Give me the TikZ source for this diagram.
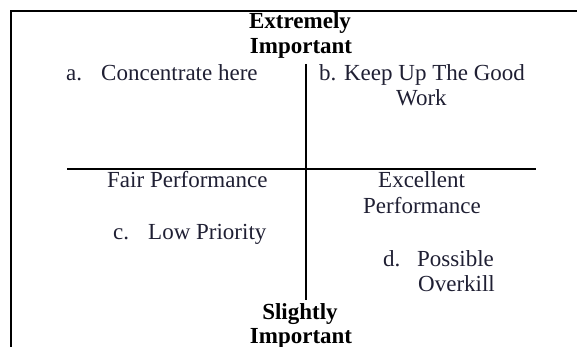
\documentclass[tikz,border=0pt]{standalone}
\usepackage{fontspec}
\setmainfont{Liberation Serif}
\definecolor{txt}{rgb}{0.12,0.12,0.2}
\begin{document}
\begin{tikzpicture}[x=1pt,y=-1pt,
  lbl/.style={anchor=base west,inner sep=0pt,text=txt,font=\fontsize{23}{27}\selectfont},
  hdr/.style={anchor=base,inner sep=0pt,text=black,font=\fontsize{23}{27}\selectfont\bfseries},
  frame/.style={line width=2.6pt,black},
  axis/.style={black}]
\useasboundingbox (0,0) rectangle (577,347);
% frame
\coordinate (tl) at (11,11);
\coordinate (tr) at (577,11);
\coordinate (bl) at (11,347);
\draw[frame] (bl) -- (tl) -- (tr);
% axes
\coordinate (hl) at (67,169.5);
\coordinate (hr) at (536,169.5);
\coordinate (vt) at (306,64);
\coordinate (vb) at (306,300);
\draw[axis,line width=2pt] (hl) -- (hr);
\draw[axis,line width=2.8pt] (vt) -- (vb);
% headers
\node[hdr] (top1) at (300,28.5) {Extremely};
\node[hdr] (top2) at (301,54) {Important};
\node[hdr] (bot1) at (300,319) {Slightly};
\node[hdr] (bot2) at (301,343) {Important};
% quadrant a
\node[lbl] (aa) at (66,81) {a.};
\node[lbl] (at) at (101,81) {Concentrate here};
% quadrant b
\node[lbl] (bt) at (319,81) {b. Keep Up The Good};
\node[lbl] (bw) at (396,106) {Work};
% quadrant c
\node[lbl] (fp) at (107,187) {Fair Performance};
\node[lbl] (cc) at (113,239) {c.};
\node[lbl] (ct) at (148,239) {Low Priority};
% quadrant d
\node[lbl] (ex) at (378,187) {Excellent};
\node[lbl] (ep) at (363,213) {Performance};
\node[lbl] (dd) at (383,266) {d.};
\node[lbl] (dt) at (417,266) {Possible};
\node[lbl] (do) at (418,291) {Overkill};
\end{tikzpicture}
\end{document}
